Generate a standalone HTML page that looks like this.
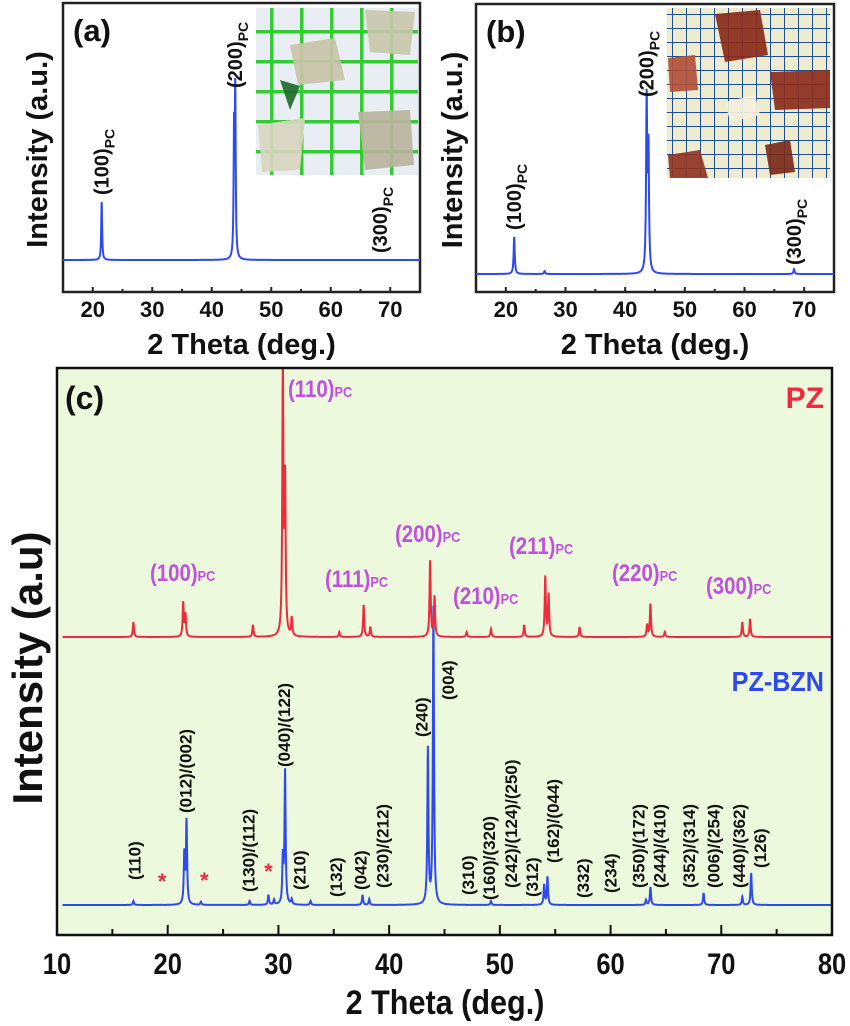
<!DOCTYPE html>
<html><head><meta charset="utf-8">
<style>
html,body{margin:0;padding:0;background:#fff;}
svg{display:block;font-family:"Liberation Sans",Arial,sans-serif;font-weight:bold;}
</style></head>
<body>
<svg id="fig" width="850" height="1026" viewBox="0 0 850 1026" xmlns="http://www.w3.org/2000/svg">
<defs>
<pattern id="gridA" width="30" height="30" patternUnits="userSpaceOnUse"><rect width="30" height="30" fill="#e8eef4"/><path d="M0 0H30M0 0V30" stroke="#33cc33" stroke-width="7"/></pattern>
<pattern id="gridB" width="14" height="14" patternUnits="userSpaceOnUse"><rect width="14" height="14" fill="#eeeccc"/><path d="M0 0H14M0 0V14" stroke="#1a4f9a" stroke-width="2"/></pattern>
</defs>
<g id="panelA"></g>
<g id="panelB"></g>
<g id="panelC"></g>
</svg>
<script>
// ---- Panel (a) data ----
const aPeakPos = [21.5, 43.75, 43.95, 66.5];
const aPeakHt  = [58, 120, 162, 0];
const aTicks = [20, 30, 40, 50, 60, 70];
const aLabels = ["(100)", "(200)", "(300)"];
const aLabelPos = [21.5, 43.9, 68.3];
// ---- Panel (b) data ----
const bPeakPos = [21.4, 26.5, 43.6, 43.9, 68.3];
const bPeakHt  = [37, 3, 171, 120, 5];
const bTicks = [20, 30, 40, 50, 60, 70];
const bLabels = ["(100)", "(200)", "(300)"];
const bLabelPos = [21.4, 43.6, 68.3];
// ---- Panel (c) PZ data ----
const pzPos = [16.9, 21.4, 21.6, 27.7, 30.4, 30.6, 31.2, 35.5, 37.7, 38.3, 43.7, 44.1, 47.0, 49.2, 52.2, 54.1, 54.4, 57.2, 63.3, 63.6, 64.9, 71.9, 72.6];
const pzHt  = [15, 34, 22, 12, 269, 150, 18, 5, 32, 10, 76, 40, 5, 8, 12, 60, 42, 10, 12, 33, 5, 15, 18];
const pzLabels = ["(110)", "(100)", "(111)", "(200)", "(210)", "(211)", "(220)", "(300)"];
const pzLabelX = [288, 150, 325, 395, 453, 509, 612, 706];
const pzLabelY = [388, 572, 578, 533, 595, 545, 572, 585];
// ---- Panel (c) PZ-BZN data ----
const bznPos = [16.9, 21.5, 21.7, 23.0, 27.4, 29.1, 29.6, 30.4, 30.6, 31.2, 32.9, 37.6, 38.2, 43.5, 44.0, 49.2, 54.0, 54.3, 63.2, 63.6, 68.4, 71.9, 72.7];
const bznHt  = [4, 50, 83, 3, 4, 10, 5, 45, 133, 5, 4, 10, 6, 155, 297, 4, 20, 28, 5, 18, 12, 8, 32];
const bznLabels = ["(110)","(012)/(002)","(130)/(112)","(040)/(122)","(210)","(132)","(042)","(230)/(212)","(240)","(004)","(310)","(160)/(320)","(242)/(124)/(250)","(312)","(162)/(044)","(332)","(234)","(350)/(172)","(244)/(410)","(352)/(314)","(006)/(254)","(440)/(362)","(126)"];
const bznLabelDeg = [17.0, 21.6, 27.3, 30.5, 31.9, 35.2, 37.4, 39.4, 42.9, 45.3, 47.1, 49.0, 51.0, 52.9, 54.8, 57.5, 60.0, 62.5, 64.4, 67.1, 69.3, 71.6, 73.5];
const bznLabelBottom = [880, 813, 892, 767, 890, 897, 890, 888, 737, 700, 895, 900, 888, 897, 863, 898, 893, 888, 888, 888, 888, 888, 868];
const starDeg = [19.5, 23.3, 29.1];
const cTicks = [10, 20, 30, 40, 50, 60, 70, 80];

const NS = "http://www.w3.org/2000/svg";
function mk(parent, tag, attrs, text){
  const e = document.createElementNS(NS, tag);
  for (const k in attrs) e.setAttribute(k, attrs[k]);
  if (text !== undefined) e.textContent = text;
  parent.appendChild(e); return e;
}
function spectrumPath(pos, ht, xs, x0, x1, base, w){
  let d = "";
  for (let t = x0; t <= x1 + 1e-9; t += 0.02){
    let v = 0;
    for (let i = 0; i < pos.length; i++){ const u = (t - pos[i]) / w; v += ht[i] / (1 + u*u); }
    d += (d ? "L" : "M") + xs(t).toFixed(2) + " " + (base - v).toFixed(2);
  }
  return d;
}
function smallPanel(g, opt){
  const xs = v => opt.L + (v - 15) * (opt.R - opt.L) / 60;
  mk(g, "rect", {x: opt.L, y: opt.T, width: opt.R - opt.L, height: opt.B - opt.T, fill: "#fff", stroke: "#222", "stroke-width": 2.5});
  for (let v = 20; v <= 70; v += 5){
    const major = v % 10 === 0;
    const t = mk(g, "line", {x1: xs(v), x2: xs(v), y1: opt.B, y2: opt.B - (major ? 5 : 3), stroke: "#222", "stroke-width": 2});
    
    
  }
  opt.ticks.forEach(v => {
    const t = mk(g, "text", {x: xs(v), y: opt.B + 25, "font-size": 22, "text-anchor": "middle", fill: "#111"}, String(v));
    
    
  });
  const xt = mk(g, "text", {x: (opt.L + opt.R) / 2, y: opt.B + 62, "font-size": 29, "text-anchor": "middle", fill: "#111"}, "2 Theta (deg.)");
  
  
  const yt = mk(g, "text", {x: 0, y: 0, "font-size": 29, "text-anchor": "middle", fill: "#111", transform: `translate(${opt.yTitleX},${(opt.T + opt.B) / 2 + 2}) rotate(-90)`}, "Intensity (a.u.)");
  
  
  const ins = mk(g, "g", {});
  
  
  mk(ins, "rect", {x: opt.inset[0], y: opt.inset[1], width: opt.inset[2], height: opt.inset[3], fill: opt.insetFill});
  opt.blobs.forEach(b => mk(ins, "polygon", {points: b[0], fill: b[1], opacity: 0.92}));
  const p = mk(g, "path", {d: spectrumPath(opt.pos, opt.ht, xs, 15, 75, opt.base, opt.w), fill: "none", stroke: "#2f49f0", "stroke-width": 2});
  
  
  const pl = mk(g, "text", {x: opt.L + 10, y: opt.T + 38, "font-size": 31, fill: "#111"}, opt.tag);
  
  
  opt.labels.forEach((s, i) => {
    const t = mk(g, "text", {x: 0, y: 0, "font-size": 20, fill: "#111", transform: `translate(${xs(opt.labelPos[i]) + 7},${opt.labelBottom[i]}) rotate(-90)`});
    
    
    t.textContent = s;
    mk(t, "tspan", {"font-size": 14, dy: 6}, "PC");
  });
}
smallPanel(document.getElementById("panelA"), {L: 63, R: 420, T: 3, B: 292, base: 260, w: 0.09, pos: aPeakPos, ht: aPeakHt, ticks: aTicks, tag: "(a)", yTitleX: 47,
  labels: aLabels, labelPos: aLabelPos, labelBottom: [195, 88, 253], inset: [256, 8, 162, 167], insetFill: "url(#gridA)",
  blobs: [["290,45 335,38 345,80 298,85", "#c9c4a8"], ["365,10 415,12 410,55 370,52", "#c8c8aa"], ["258,125 305,118 300,170 262,172", "#d8d6c0"], ["358,112 410,110 414,165 365,170", "#b9b49c"], ["280,80 300,86 290,110", "#1f6a2a"]]});
smallPanel(document.getElementById("panelB"), {L: 476, R: 834, T: 4, B: 292, base: 274, w: 0.11, pos: bPeakPos, ht: bPeakHt, ticks: bTicks, tag: "(b)", yTitleX: 462,
  labels: bLabels, labelPos: bLabelPos, labelBottom: [230, 97, 265], inset: [667, 8, 163, 170], insetFill: "url(#gridB)",
  blobs: [["715,14 760,10 768,55 725,62", "#8a2a1a"], ["668,58 695,55 698,90 670,92", "#b0503a"], ["770,72 830,70 830,108 775,110", "#8c2c1c"], ["725,102 755,95 760,115 730,122", "#f4f0dc"], ["668,155 700,150 708,178 670,178", "#8f3422"], ["765,145 790,140 795,172 770,175", "#7a2a1a"]]});

(function(){
  const g = document.getElementById("panelC");
  const L = 57, R = 832, T = 368, B = 935;
  const xs = v => L + (v - 10) * (R - L) / 70;
  const pzBase = 637, bznBase = 905;
  const bg = mk(g, "rect", {x: L, y: T, width: R - L, height: B - T, fill: "#edf9dd"});
  
  
  const clip = mk(mk(g, "defs", {}), "clipPath", {id: "cclip"});
  mk(clip, "rect", {x: L, y: T, width: R - L, height: B - T});
  const p1 = mk(g, "path", {d: spectrumPath(bznPos, bznHt, xs, 10.5, 80, bznBase, 0.06), fill: "none", stroke: "#2f49f0", "stroke-width": 2, "clip-path": "url(#cclip)"});
  
  
  const p2 = mk(g, "path", {d: spectrumPath(pzPos, pzHt, xs, 10.5, 80, pzBase, 0.06), fill: "none", stroke: "#f02a3a", "stroke-width": 2, "clip-path": "url(#cclip)"});
  
  
  mk(g, "rect", {x: L, y: T, width: R - L, height: B - T, fill: "none", stroke: "#111", "stroke-width": 2.5});
  for (let v = 15; v < 80; v += 5){
    const major = v % 10 === 0;
    const t = mk(g, "line", {x1: xs(v), x2: xs(v), y1: B, y2: B - (major ? 10 : 6), stroke: "#111", "stroke-width": 2});
    
    
  }
  cTicks.forEach(v => {
    const t = mk(g, "text", {x: xs(v), y: B + 39, "font-size": 30, "text-anchor": "middle", fill: "#111", transform: `translate(${xs(v)},0) scale(0.85,1) translate(${-xs(v)},0)`}, String(v));
    
    
  });
  const xt = mk(g, "text", {x: 445, y: 1014, "font-size": 34, "text-anchor": "middle", fill: "#111", transform: "translate(445,0) scale(0.9,1) translate(-445,0)"}, "2 Theta (deg.)");
  
  
  const yt = mk(g, "text", {x: 0, y: 0, "font-size": 42, "text-anchor": "middle", fill: "#111", transform: "translate(42,668) rotate(-90)"}, "Intensity (a.u)");
  
  
  const pl = mk(g, "text", {x: 65, y: 409, "font-size": 32, fill: "#111"}, "(c)");
  
  
  const l1 = mk(g, "text", {x: 824, y: 408, "font-size": 30, "text-anchor": "end", fill: "#f02a3a"}, "PZ");
  
  
  const l2 = mk(g, "text", {x: 824, y: 691, "font-size": 28, "text-anchor": "end", fill: "#2f49f0", transform: "translate(824,0) scale(0.9,1) translate(-824,0)"}, "PZ-BZN");
  
  
  pzLabels.forEach((s, i) => {
    const t = mk(g, "text", {x: pzLabelX[i], y: pzLabelY[i] + 9, "font-size": 24, fill: "#c050e0", transform: `translate(${pzLabelX[i]},0) scale(0.85,1) translate(${-pzLabelX[i]},0)`});
    
    
    t.textContent = s;
    mk(t, "tspan", {"font-size": 15}, "PC");
  });
  bznLabels.forEach((s, i) => {
    const t = mk(g, "text", {x: 0, y: 0, "font-size": 17, fill: "#111", transform: `translate(${xs(bznLabelDeg[i]) + 6},${bznLabelBottom[i]}) rotate(-90)`}, s);
    
    
  });
  starDeg.forEach((d, i) => {
    const t = mk(g, "text", {x: xs(d), y: [889, 888, 879][i], "font-size": 22, "text-anchor": "middle", fill: "#f02a3a"}, "*");
    
    
  });
})();
</script>
</body></html>
